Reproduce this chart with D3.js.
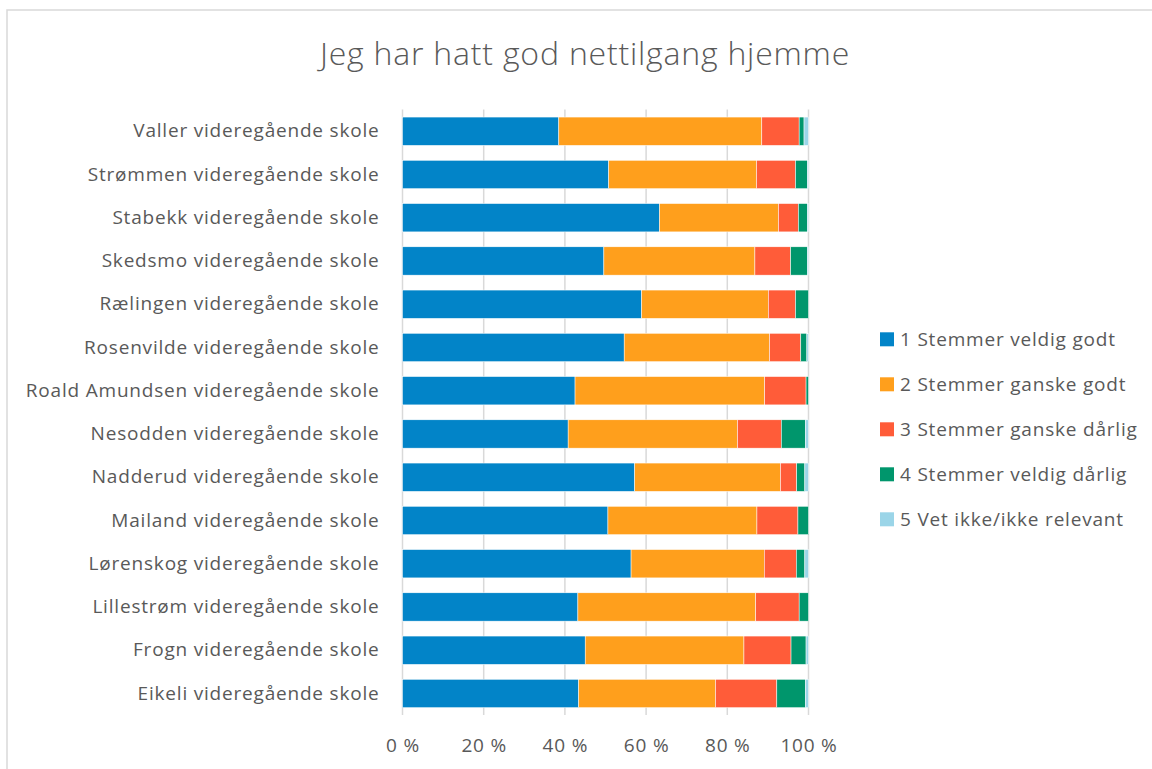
<!DOCTYPE html>
<html>
<head>
<meta charset="utf-8">
<script src="https://cdn.jsdelivr.net/npm/d3@7"></script>
<style>
  body { margin: 0; background: #fff; }
  text { font-family: "Open Sans", sans-serif; fill: #595959; }
</style>
</head>
<body>
<svg width="1152" height="769"></svg>
<script>
var schools = [
  "Valler videregående skole",
  "Strømmen videregående skole",
  "Stabekk videregående skole",
  "Skedsmo videregående skole",
  "Rælingen videregående skole",
  "Rosenvilde videregående skole",
  "Roald Amundsen videregående skole",
  "Nesodden videregående skole",
  "Nadderud videregående skole",
  "Mailand videregående skole",
  "Lørenskog videregående skole",
  "Lillestrøm videregående skole",
  "Frogn videregående skole",
  "Eikeli videregående skole"
];

var answers = [
  "1 Stemmer veldig godt",
  "2 Stemmer ganske godt",
  "3 Stemmer ganske dårlig",
  "4 Stemmer veldig dårlig",
  "5 Vet ikke/ikke relevant"
];

// percent per school, same order as schools
var veldigGodt   = [38.5, 50.8, 63.3, 49.6, 58.9, 54.6, 42.5, 40.8, 57.2, 50.6, 56.3, 43.2, 45.0, 43.4];
var ganskeGodt   = [50.0, 36.4, 29.3, 37.2, 31.2, 35.8, 46.7, 41.7, 35.9, 36.7, 32.8, 43.8, 39.1, 33.7];
var ganskeDarlig = [ 9.2,  9.6,  4.9,  8.8,  6.7,  7.7, 10.2, 10.8,  4.0, 10.1,  7.9, 10.7, 11.6, 15.1];
var veldigDarlig = [ 1.2,  2.9,  2.2,  4.1,  3.2,  1.5,  0.6,  5.9,  2.0,  2.6,  2.1,  2.3,  3.7,  7.0];
var vetIkke      = [ 1.1,  0.3,  0.3,  0.3,  0.0,  0.4,  0.0,  0.8,  0.9,  0.0,  0.9,  0.0,  0.6,  0.8];

var xTicks = [0, 20, 40, 60, 80, 100];
var colors = ["#0284c8", "#ff9f1c", "#ff5c39", "#00966c", "#9bd5e8"];

var series = [veldigGodt, ganskeGodt, ganskeDarlig, veldigDarlig, vetIkke];
var rows = schools.map(function(s, i) {
  var r = { school: s };
  answers.forEach(function(a, j) { r[a] = series[j][i]; });
  return r;
});

var svg = d3.select("svg");

// chart frame
svg.append("rect")
  .attr("x", 7).attr("y", 10)
  .attr("width", 1160).attr("height", 780)
  .attr("fill", "none").attr("stroke", "#d9d9d9").attr("stroke-width", 1.5);

svg.append("text")
  .attr("x", 585).attr("y", 65)
  .attr("text-anchor", "middle")
  .style("font-size", "32px")
  .style("font-weight", 300)
  .style("letter-spacing", "0.8px")
  .text("Jeg har hatt god nettilgang hjemme");

var x = d3.scaleLinear().domain([0, 100]).range([402.5, 808.5]);
var y = d3.scaleBand().domain(schools).range([109.6, 715.1]).paddingInner(0.345).paddingOuter(0.1725);

// gridlines
svg.append("g").selectAll("line")
  .data(xTicks)
  .enter().append("line")
    .attr("x1", function(d) { return x(d); })
    .attr("x2", function(d) { return x(d); })
    .attr("y1", 109.6).attr("y2", 715.1)
    .attr("stroke", "#d9d9d9").attr("stroke-width", 1.5);

var stack = d3.stack().keys(answers)(rows);

svg.append("g").selectAll("g")
  .data(stack)
  .enter().append("g")
    .attr("fill", function(d, i) { return colors[i]; })
  .selectAll("rect")
  .data(function(d) { return d; })
  .enter().append("rect")
    .attr("x", function(d) { return x(d[0]); })
    .attr("y", function(d) { return y(d.data.school); })
    .attr("width", function(d) { return Math.max(0, x(d[1]) - x(d[0])); })
    .attr("height", y.bandwidth())
    .attr("stroke", "#fff").attr("stroke-width", 0.5);

// x axis labels
var xAxis = svg.append("g")
  .attr("transform", "translate(0,715.1)")
  .call(d3.axisBottom(x).tickValues(xTicks).tickSize(0).tickPadding(23)
    .tickFormat(function(d) { return d + " %"; }));
xAxis.select(".domain").remove();
xAxis.selectAll("text").style("font-size", "19px").style("letter-spacing", "0.8px").attr("fill", "#595959");

// y axis labels
var yAxis = svg.append("g")
  .attr("transform", "translate(402.5,0)")
  .call(d3.axisLeft(y).tickSize(0).tickPadding(23));
yAxis.select(".domain").remove();
yAxis.selectAll("text").style("font-size", "19px").style("letter-spacing", "0.8px").attr("fill", "#595959");

// legend
var legend = svg.append("g").selectAll("g")
  .data(answers)
  .enter().append("g")
    .attr("transform", function(d, i) { return "translate(880," + (339.3 + i * 45) + ")"; });
legend.append("rect")
  .attr("x", 0).attr("y", -7).attr("width", 14).attr("height", 14)
  .attr("fill", function(d, i) { return colors[i]; });
legend.append("text")
  .attr("x", 20).attr("dy", "0.35em")
  .style("font-size", "19px")
  .style("letter-spacing", "0.8px")
  .text(function(d) { return d; });
</script>
</body>
</html>
